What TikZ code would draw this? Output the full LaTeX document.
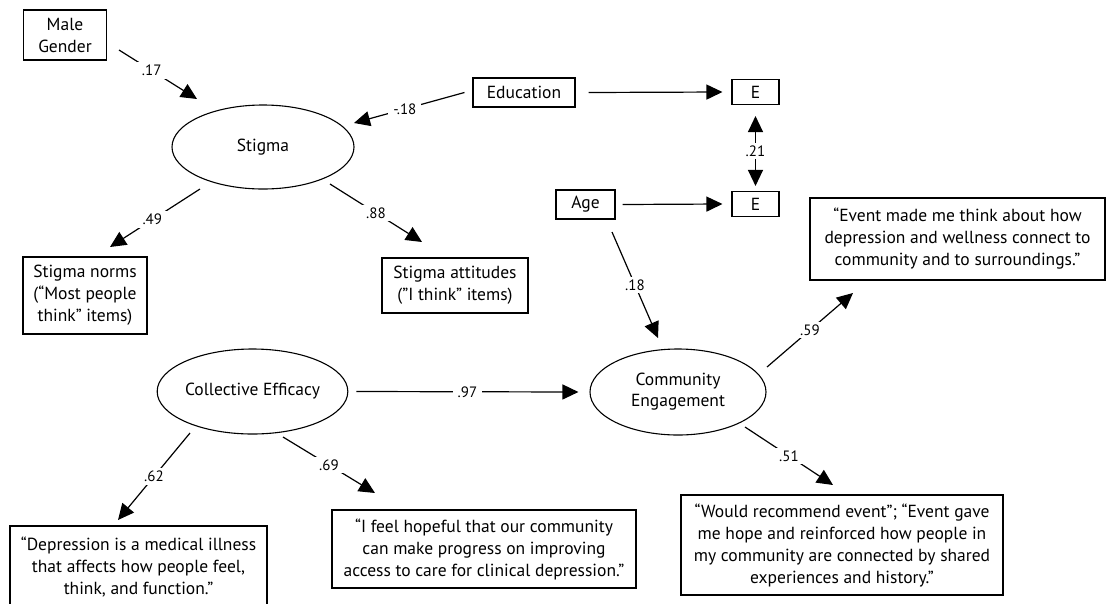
\documentclass[tikz,border=0pt]{standalone}
\usepackage{fontspec}
\setmainfont{PT Sans}
\usetikzlibrary{shapes.geometric,arrows.meta}
\begin{document}
\begin{tikzpicture}[x=1pt,y=-1pt,
  box/.style={draw, line width=1.1pt, align=center, inner sep=0pt, font=\fontsize{17.5}{22}\selectfont},
  lat/.style={draw, ellipse, line width=1.1pt, align=center, inner sep=0pt, font=\fontsize{17.5}{21}\selectfont},
  arr/.style={line width=1.2pt, -{Triangle[length=16pt,width=15pt]}},
  darr/.style={line width=1.2pt, {Triangle[length=16pt,width=15pt]}-{Triangle[length=16pt,width=15pt]}},
  lbl/.style={fill=white, inner xsep=5pt, inner ysep=3pt, font=\fontsize{15}{17}\selectfont}]
\useasboundingbox (0,0) rectangle (1109,603);
\clip (0,0) rectangle (1109,603);

% nodes
\node[box, minimum width=83pt, minimum height=50pt] (male) at (65,35) {Male\\Gender};
\node[lat, minimum width=182pt, minimum height=84pt] (stigma) at (263,147) {Stigma};
\node[box, minimum width=102pt, minimum height=29pt] (edu) at (524,92.5) {Education};
\node[box, minimum width=47pt, minimum height=25pt] (e1) at (755.5,92) {E};
\node[box, minimum width=47pt, minimum height=25pt] (e2) at (755.5,204) {E};
\node[box, minimum width=59pt, minimum height=29pt] (age) at (585.5,204.5) {Age};
\node[box, minimum width=124pt, minimum height=77pt] (norms) at (85,295.5) {Stigma norms\\(“Most people\\think” items)};
\node[box, minimum width=146pt, minimum height=55pt] (att) at (455,285.5) {Stigma attitudes\\("I think” items)};
\node[lat, minimum width=153pt, minimum height=85pt] (ce) at (252.5,391.5) {Collective Efficacy};
\node[lat, minimum width=176pt, minimum height=86pt] (ceng) at (678,392) {Community\\Engagement};
\node[box, minimum width=295pt, minimum height=82pt] (tr) at (957.5,239) {“Event made me think about how\\depression and wellness connect to\\community and to surroundings.”};
\node[box, minimum width=322pt, minimum height=100pt] (br) at (842,545) {“Would recommend event”; “Event gave\\me hope and reinforced how people in\\my community are connected by shared\\experiences and history.”};
\node[box, minimum width=257pt, minimum height=82pt] (dep) at (138.5,567) {“Depression is a medical illness\\that affects how people feel,\\think, and function.”};
\node[box, minimum width=304pt, minimum height=78pt] (hope) at (484,549) {“I feel hopeful that our community\\can make progress on improving\\access to care for clinical depression.”};

% connectors
\draw[arr] ([shift={(54,15)}]male.center) -- node[lbl, pos=0.42]{.17} ([shift={(-66,-48)}]stigma.center);
\draw[arr] ([shift={(-8,0)}]edu.west) -- node[lbl, pos=0.54]{-.18} ([shift={(91,-24)}]stigma.center);
\draw[arr] ([shift={(13,0)}]edu.east) -- ([shift={(-9,0)}]e1.west);
\draw[darr] ([shift={(0,11)}]e1.south) -- node[lbl]{.21} ([shift={(0,-5)}]e2.north);
\draw[arr] ([shift={(7,0)}]age.east) -- ([shift={(-9,0)}]e2.west);
\draw[arr] ([shift={(26.5,27.5)}]age.center) -- node[lbl]{.18} ([shift={(-20,-54)}]ceng.center);
\draw[arr] ([shift={(-63,42)}]stigma.center) -- node[lbl, pos=0.53]{.49} ([shift={(25,-48.5)}]norms.center);
\draw[arr] ([shift={(67,37)}]stigma.center) -- node[lbl]{.88} ([shift={(-33,-43.5)}]att.center);
\draw[arr] ([shift={(8,0)}]ce.east) -- node[lbl]{.97} ([shift={(-11,0)}]ceng.west);
\draw[arr] ([shift={(-62.5,41.5)}]ce.center) -- node[lbl]{.62} ([shift={(-20.5,-47)}]dep.center);
\draw[arr] ([shift={(30.5,45.5)}]ce.center) -- node[lbl]{.69} ([shift={(-109,-56)}]hope.center);
\draw[arr] ([shift={(89,-25)}]ceng.center) -- node[lbl]{.59} ([shift={(-104.5,54)}]tr.center);
\draw[arr] ([shift={(67,35)}]ceng.center) -- node[lbl]{.51} ([shift={(-9,-60)}]br.center);
\end{tikzpicture}
\end{document}
